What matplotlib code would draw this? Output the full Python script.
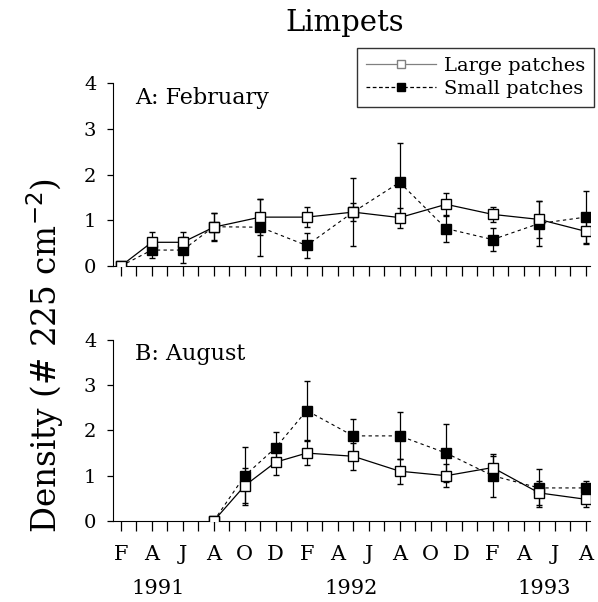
import numpy as np
import matplotlib
matplotlib.use('Agg')
import matplotlib.pyplot as plt
from matplotlib.lines import Line2D

plt.rcParams['font.family'] = 'DejaVu Serif'

# months since February 1991
month_labels = ['F', 'A', 'J', 'A', 'O', 'D', 'F', 'A', 'J', 'A', 'O', 'D', 'F', 'A', 'J', 'A']
years = ['1991', '1992', '1993']
year_pos = [2.4, 14.9, 27.3]

# A: February cohort
feb_months = [0, 2, 4, 6, 9, 12, 15, 18, 21, 24, 27, 30]
feb_large = [0, 0.52, 0.52, 0.85, 1.07, 1.07, 1.18, 1.06, 1.35, 1.13, 1.02, 0.76]
feb_large_err = [0, 0.22, 0.22, 0.3, 0.4, 0.22, 0.2, 0.22, 0.25, 0.17, 0.4, 0.25]
feb_small = [0, 0.35, 0.35, 0.86, 0.85, 0.45, 1.18, 1.83, 0.82, 0.58, 0.93, 1.07]
feb_small_err = [0, 0.17, 0.28, 0.3, 0.62, 0.27, 0.75, 0.87, 0.3, 0.25, 0.5, 0.58]

# B: August cohort
aug_months = [6, 8, 10, 12, 15, 18, 21, 24, 27, 30]
aug_large = [0, 0.78, 1.3, 1.5, 1.43, 1.1, 1.0, 1.18, 0.62, 0.48]
aug_large_err = [0, 0.38, 0.28, 0.27, 0.3, 0.28, 0.26, 0.25, 0.27, 0.18]
aug_small = [0, 1.0, 1.62, 2.44, 1.88, 1.88, 1.5, 1.0, 0.73, 0.73]
aug_small_err = [0, 0.64, 0.34, 0.66, 0.37, 0.52, 0.64, 0.48, 0.42, 0.15]

fig = plt.figure(figsize=(5.98, 6.02), dpi=100)
ax_a = fig.add_axes([0.189, 0.558, 0.798, 0.304])
ax_b = fig.add_axes([0.189, 0.1346, 0.798, 0.3007])


def draw_panel(ax, x, large, large_err, small, small_err, label):
    ax.errorbar(x, small, yerr=small_err, color='black', linestyle=(0, (3, 3)),
                linewidth=0.8, marker='s', markersize=7, markerfacecolor='black',
                markeredgecolor='black', capsize=2.5, elinewidth=0.9, zorder=3)
    ax.errorbar(x, large, yerr=large_err, color='black', linestyle='-',
                linewidth=0.9, marker='s', markersize=7, markerfacecolor='white',
                markeredgecolor='black', capsize=2.5, elinewidth=0.9, zorder=4)
    ax.set_xlim(-0.5, 30.3)
    ax.set_ylim(0, 4)
    ax.spines['top'].set_visible(False)
    ax.spines['right'].set_visible(False)
    ax.set_yticks([0, 1, 2, 3, 4])
    ax.set_xticks(np.arange(0, 31, 1))
    ax.tick_params(axis='x', direction='out', length=7, width=0.9, labelbottom=False)
    ax.tick_params(axis='y', direction='out', length=4, width=0.9, labelsize=14, pad=8)
    ax.text(0.046, 0.92, label, transform=ax.transAxes, fontsize=16, va='center')


draw_panel(ax_a, feb_months, feb_large, feb_large_err, feb_small, feb_small_err, 'A: February')
draw_panel(ax_b, aug_months, aug_large, aug_large_err, aug_small, aug_small_err, 'B: August')

ax_b.set_xticks(np.arange(0, 31, 2), labels=month_labels, minor=False)
ax_b.set_xticks(np.arange(1, 31, 2), minor=True)
ax_b.tick_params(axis='x', which='both', direction='out', length=7, width=0.9,
                 labelbottom=True, labelsize=15, pad=10)
for yr, pos in zip(years, year_pos):
    ax_b.text(pos, -0.375, yr, transform=ax_b.get_xaxis_transform(), ha='center',
              va='center', fontsize=15)

fig.text(0.577, 0.962, 'Limpets', ha='center', va='center', fontsize=21)
fig.text(0.075, 0.41, 'Density (# 225 cm$^{-2}$)', rotation=90, ha='center',
         va='center', fontsize=23.5)

handles = [
    Line2D([], [], color='gray', linestyle='-', linewidth=0.9, marker='s',
           markersize=6, markerfacecolor='white', markeredgecolor='gray'),
    Line2D([], [], color='black', linestyle=(0, (3, 2)), linewidth=0.9, marker='s',
           markersize=6, markerfacecolor='black', markeredgecolor='black'),
]
fig.legend(handles, ['Large patches', 'Small patches'], loc='upper right',
           bbox_to_anchor=(0.993, 0.92), fontsize=14, frameon=True,
           fancybox=False, edgecolor='black', handlelength=3.6, borderpad=0.45,
           labelspacing=0.25, handletextpad=0.4, borderaxespad=0)

fig.savefig('out.png', dpi=100)
